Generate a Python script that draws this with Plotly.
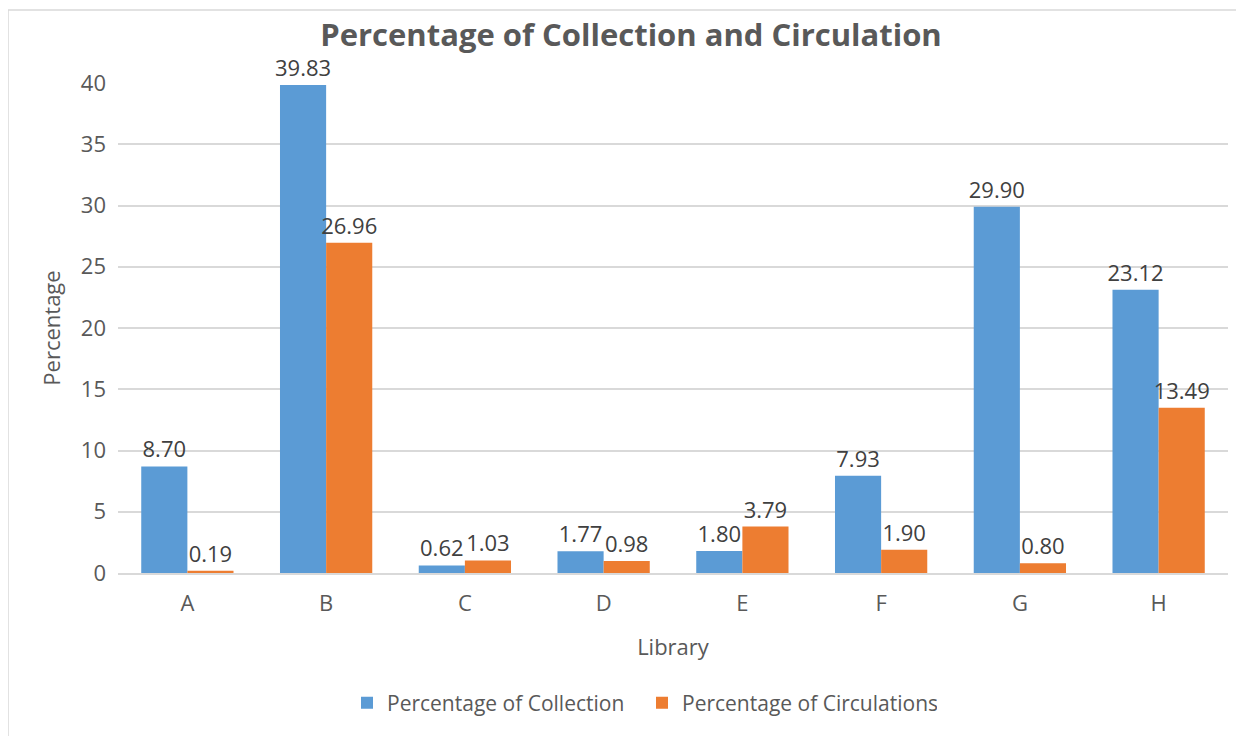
import plotly.graph_objects as go

libraries = ["A", "B", "C", "D", "E", "F", "G", "H"]
collection = [8.70, 39.83, 0.62, 1.77, 1.80, 7.93, 29.90, 23.12]
circulations = [0.19, 26.96, 1.03, 0.98, 3.79, 1.90, 0.80, 13.49]
y_ticks = [0, 5, 10, 15, 20, 25, 30, 35, 40]

FONT = "Open Sans"
LBL = 22
fig = go.Figure()
fig.add_trace(go.Bar(
    x=libraries, y=collection, name="Percentage of Collection",
    marker=dict(color="#5b9bd5", line=dict(width=0)),
    text=[f"{v:.2f}" for v in collection], textposition="outside",
    constraintext="none",
    textfont=dict(family=FONT, size=LBL, color="#404040"), cliponaxis=False,
))
fig.add_trace(go.Bar(
    x=libraries, y=circulations, name="Percentage of Circulations",
    marker=dict(color="#ed7d31", line=dict(width=0)),
    text=[f"{v:.2f}" for v in circulations], textposition="outside",
    constraintext="none",
    textfont=dict(family=FONT, size=LBL, color="#404040"), cliponaxis=False,
))

# page has an 8px body offset
OFF = 8
L, R, T, B = 110, 16, 75, 163
W, H = 1236, 728
pw, ph = W - L - R, H - T - B

def px_x(p):
    return (p - OFF - L) / pw

def px_y(p):
    return (H - B - (p - OFF)) / ph

fig.update_layout(
    width=W, height=H,
    margin=dict(l=L, r=R, t=T, b=B, autoexpand=False),
    paper_bgcolor="white", plot_bgcolor="white",
    barmode="group", bargap=0.335, bargroupgap=0,
    font=dict(family=FONT, color="#595959"),
    title=dict(text="<b>Percentage of Collection and Circulation</b>",
               x=(631 - OFF) / W, xref="container", xanchor="center",
               y=1 - (35 - OFF) / H, yanchor="middle", yref="container",
               font=dict(family=FONT, size=31, color="#595959")),
    xaxis=dict(
        title=dict(text="Library", font=dict(family=FONT, size=22, color="#595959"), standoff=23),
        tickfont=dict(family=FONT, size=22, color="#595959"),
        showline=True, linecolor="#d9d9d9", linewidth=1.5,
        ticks="", ticklabelstandoff=10, showgrid=False,
    ),
    yaxis=dict(
        title=dict(text="Percentage", font=dict(family=FONT, size=22, color="#595959"), standoff=14),
        tickfont=dict(family=FONT, size=22, color="#595959"),
        range=[0, 40], tickvals=y_ticks,
        showgrid=True, gridcolor="#d9d9d9", gridwidth=1.5,
        zeroline=False, showline=False, ticks="", ticklabelstandoff=11,
    ),
    legend=dict(orientation="h", x=(642 - OFF) / W, xanchor="center", xref="container",
                y=1 - (703 - OFF) / H, yanchor="middle", yref="container",
                font=dict(family=FONT, size=21, color="#595959"),
                itemwidth=30, traceorder="normal",
                entrywidth=250, entrywidthmode="pixels"),
    shapes=[
        dict(type="line", xref="paper", yref="paper",
             x0=px_x(8), x1=px_x(1244), y0=px_y(10), y1=px_y(10),
             line=dict(color="#d9d9d9", width=1.5)),
        dict(type="line", xref="paper", yref="paper",
             x0=px_x(8), x1=px_x(8), y0=px_y(10), y1=px_y(736),
             line=dict(color="#d9d9d9", width=1.5)),
    ],
)

fig.write_html("out.html")
